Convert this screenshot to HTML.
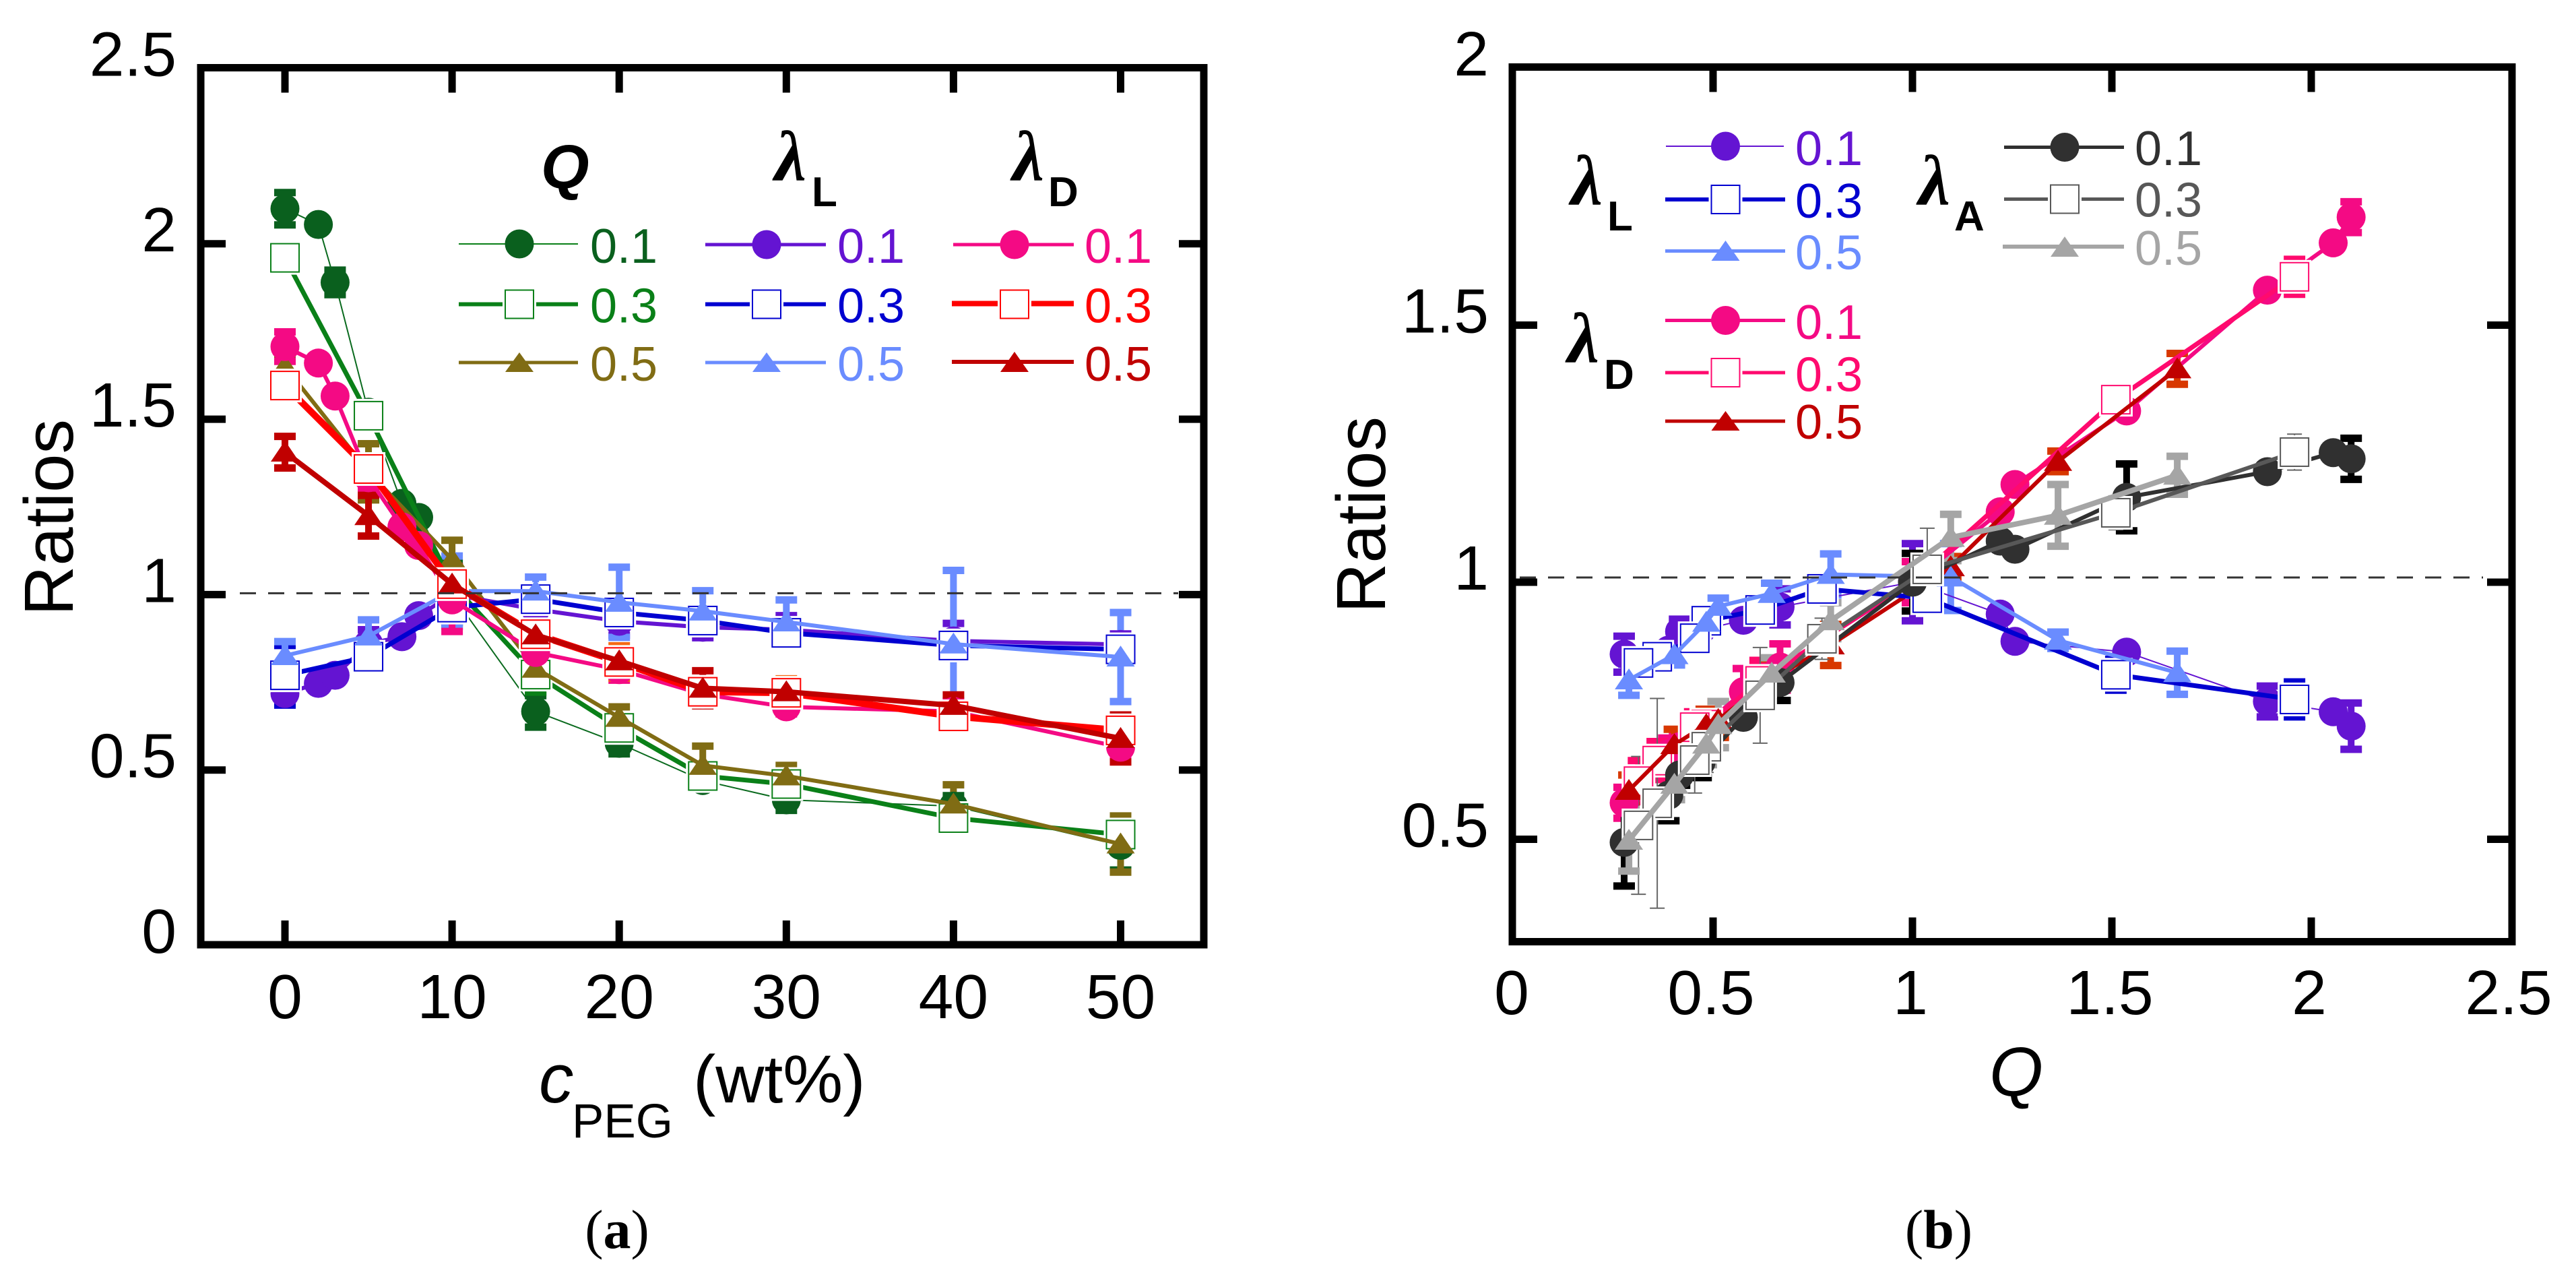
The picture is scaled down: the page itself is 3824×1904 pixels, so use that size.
<!DOCTYPE html>
<html lang="en">
<head>
<meta charset="utf-8">
<title>Ratios versus PEG concentration and Q</title>
<style>
html,body{margin:0;padding:0;background:#fff;width:3824px;height:1904px;overflow:hidden}
svg{display:block}
text{font-family:"Liberation Sans",sans-serif}
.lg{font-size:72px}
.tk{font-size:93px;fill:#000}
.ti{font-size:103px;fill:#000}
.lam{font-family:"Liberation Serif",serif;font-style:italic;font-weight:bold;font-size:106px;fill:#000}
.sub{font-size:62px;font-weight:bold;fill:#000}
.cap{font-family:"Liberation Serif",serif;font-size:82px;fill:#000}
</style>
</head>
<body>
<svg id="figure" xmlns="http://www.w3.org/2000/svg" width="3824" height="1904" viewBox="0 0 3824 1904">
  <rect x="0" y="0" width="3824" height="1904" fill="#fff"/>

  <g id="panelA"></g>
  <g id="panelB"></g>

  <text class="ti" transform="translate(108,914) rotate(-90)">Ratios</text>
  <text class="ti" transform="translate(2056,910) rotate(-90)">Ratios</text>

  <text class="ti" x="800" y="1636"><tspan font-style="italic">c</tspan></text>
  <text x="849" y="1688" font-size="71">PEG</text>
  <text x="1029" y="1636" font-size="100">(wt%)</text>
  <text class="ti" x="2993" y="1626" text-anchor="middle" font-style="italic">Q</text>

  <text class="cap" x="916" y="1852" text-anchor="middle">(<tspan font-weight="bold">a</tspan>)</text>
  <text class="cap" x="2878" y="1852" text-anchor="middle">(<tspan font-weight="bold">b</tspan>)</text>

  <!-- Legend, panel a -->
  <g>
    <text x="803" y="279" font-size="92" font-weight="bold" font-style="italic">Q</text>
    <text class="lam" x="1150" y="268">λ</text>
    <text class="sub" x="1205" y="306">L</text>
    <text class="lam" x="1503" y="268">λ</text>
    <text class="sub" x="1556" y="306">D</text>

    <g><line x1="681" x2="858" y1="362" y2="362" stroke="#0a8018" stroke-width="2"/><circle cx="771" cy="362" r="21.5" fill="#0a601e"/><text class="lg" x="876" y="390" fill="#0a601e">0.1</text></g>
    <g><line x1="681" x2="858" y1="451.500" y2="451.500" stroke="#0a8018" stroke-width="6"/><rect x="746" y="426" width="50" height="50" fill="#fff"/><rect x="750" y="430.500" width="42" height="42" fill="#fff" stroke="#0a8018" stroke-width="2"/><text class="lg" x="876" y="478.500" fill="#0a8018">0.3</text></g>
    <g><line x1="681" x2="858" y1="538" y2="538" stroke="#806c14" stroke-width="5"/><polygon points="771,523 750,552 792,552" fill="#806c14"/><text class="lg" x="876" y="565" fill="#806c14">0.5</text></g>

    <g><line x1="1047" x2="1226" y1="363" y2="363" stroke="#6414d2" stroke-width="5"/><circle cx="1138" cy="363" r="21.5" fill="#6414d2"/><text class="lg" x="1243" y="390" fill="#6414d2">0.1</text></g>
    <g><line x1="1047" x2="1226" y1="451.500" y2="451.500" stroke="#0000d0" stroke-width="6"/><rect x="1113" y="426" width="50" height="50" fill="#fff"/><rect x="1117" y="430.500" width="42" height="42" fill="#fff" stroke="#0000d0" stroke-width="2"/><text class="lg" x="1243" y="478.500" fill="#0000d0">0.3</text></g>
    <g><line x1="1047" x2="1226" y1="538" y2="538" stroke="#6a8cff" stroke-width="5"/><polygon points="1138,523 1117,552 1159,552" fill="#6a8cff"/><text class="lg" x="1243" y="565" fill="#6a8cff">0.5</text></g>

    <g><line x1="1415" x2="1594" y1="363" y2="363" stroke="#f40a84" stroke-width="5"/><circle cx="1506" cy="363" r="21.5" fill="#f40a84"/><text class="lg" x="1610" y="390" fill="#f40a84">0.1</text></g>
    <g><line x1="1413" x2="1594" y1="450.500" y2="450.500" stroke="#ff0000" stroke-width="8"/><rect x="1481" y="426" width="50" height="50" fill="#fff"/><rect x="1485" y="430.500" width="42" height="42" fill="#fff" stroke="#ff0000" stroke-width="2"/><text class="lg" x="1610" y="478.500" fill="#ff0000">0.3</text></g>
    <g><line x1="1413" x2="1594" y1="537" y2="537" stroke="#c00000" stroke-width="6"/><polygon points="1506,522 1485,552 1527,552" fill="#c00000"/><text class="lg" x="1610" y="565" fill="#c00000">0.5</text></g>
  </g>

  <!-- Legend, panel b -->
  <g>
    <text class="lam" x="2332" y="304">λ</text>
    <text class="sub" x="2386" y="342">L</text>
    <text class="lam" x="2327" y="538">λ</text>
    <text class="sub" x="2381" y="577">D</text>
    <text class="lam" x="2848" y="304">λ</text>
    <text class="sub" x="2901" y="342">A</text>

    <g><line x1="2473" x2="2648" y1="217" y2="217" stroke="#6414d2" stroke-width="2"/><circle cx="2561.500" cy="217" r="21.500" fill="#6414d2"/><text class="lg" x="2665" y="245" fill="#6414d2">0.1</text></g>
    <g><line x1="2472" x2="2650" y1="296" y2="296" stroke="#0000d0" stroke-width="6"/><rect x="2536.500" y="271" width="50" height="50" fill="#fff"/><rect x="2540.500" y="275" width="42" height="42" fill="#fff" stroke="#0000d0" stroke-width="2"/><text class="lg" x="2665" y="323" fill="#0000d0">0.3</text></g>
    <g><line x1="2472" x2="2650" y1="372.500" y2="372.500" stroke="#6a8cff" stroke-width="5"/><polygon points="2561.500,357 2540.500,387 2582.500,387" fill="#6a8cff"/><text class="lg" x="2665" y="399.500" fill="#6a8cff">0.5</text></g>

    <g><line x1="2472" x2="2650" y1="475.500" y2="475.500" stroke="#f40a84" stroke-width="5"/><circle cx="2561.500" cy="475.500" r="21.500" fill="#f40a84"/><text class="lg" x="2665" y="503" fill="#f40a84">0.1</text></g>
    <g><line x1="2472" x2="2650" y1="553" y2="553" stroke="#ff0a6e" stroke-width="5"/><rect x="2536.500" y="528" width="50" height="50" fill="#fff"/><rect x="2540.500" y="532" width="42" height="42" fill="#fff" stroke="#ff0a6e" stroke-width="2"/><text class="lg" x="2665" y="580.500" fill="#ff0a6e">0.3</text></g>
    <g><line x1="2472" x2="2650" y1="625" y2="625" stroke="#c00000" stroke-width="5"/><polygon points="2561.500,610 2540.500,639 2582.500,639" fill="#c00000"/><text class="lg" x="2665" y="651" fill="#c00000">0.5</text></g>

    <g><line x1="2975" x2="3153" y1="218.500" y2="218.500" stroke="#303030" stroke-width="5"/><circle cx="3065" cy="218.500" r="21.500" fill="#303030"/><text class="lg" x="3169" y="245" fill="#303030">0.1</text></g>
    <g><line x1="2975" x2="3153" y1="295.500" y2="295.500" stroke="#585858" stroke-width="5"/><rect x="3040" y="270.500" width="50" height="50" fill="#fff"/><rect x="3044" y="274.500" width="42" height="42" fill="#fff" stroke="#585858" stroke-width="2"/><text class="lg" x="3169" y="321.500" fill="#585858">0.3</text></g>
    <g><line x1="2973" x2="3153" y1="366" y2="366" stroke="#a5a5a5" stroke-width="6"/><polygon points="3065,351 3044,381 3086,381" fill="#a5a5a5"/><text class="lg" x="3169" y="393" fill="#a5a5a5">0.5</text></g>
  </g>
</svg>

<script>
// ---- Panel (a) data: ratios against PEG concentration ----
const pegFine = [0, 2, 3, 5, 7, 8, 10, 15, 20, 25, 30, 40, 50];
const pegCoarse = [0, 5, 10, 15, 20, 25, 30, 40, 50];

const q01 = [2.10, 2.055, 1.89, 1.52, 1.26, 1.22, 1.00, 0.667, 0.576, 0.47, 0.415, 0.397, 0.285];
const q01Err = [0.046, 0, 0.035, 0.02, 0, 0, 0.09, 0.045, 0.03, 0.02, 0.03, 0.03, 0.07];
const q03 = [1.96, 1.51, 1.03, 0.772, 0.62, 0.483, 0.46, 0.363, 0.316];
const q03Err = [0.02, 0.02, 0.05, 0.05, 0.03, 0.03, 0.03, 0.03, 0.03];
const q05 = [1.65, 1.35, 1.10, 0.79, 0.65, 0.513, 0.483, 0.403, 0.289];
const q05Err = [0.03, 0.08, 0.055, 0.05, 0.03, 0.055, 0.03, 0.055, 0.08];

const lengthA01 = [0.718, 0.747, 0.77, 0.86, 0.88, 0.94, 1.00, 0.958, 0.924, 0.907, 0.90, 0.868, 0.858];
const lengthA01Err = [0.03, 0, 0, 0.04, 0, 0, 0.08, 0.03, 0.04, 0.03, 0.04, 0.05, 0.03];
const lengthA03 = [0.77, 0.823, 0.963, 0.987, 0.949, 0.926, 0.891, 0.855, 0.844];
const lengthA03Err = [0.085, 0.03, 0.04, 0.03, 0.035, 0.03, 0.03, 0.03, 0.03];
const lengthA05 = [0.826, 0.882, 1.01, 1.01, 0.978, 0.953, 0.922, 0.859, 0.822];
const lengthA05Err = [0.04, 0.046, 0.1, 0.04, 0.1, 0.058, 0.063, 0.21, 0.127];

const diamA01 = [1.707, 1.66, 1.566, 1.333, 1.193, 1.14, 0.985, 0.835, 0.786, 0.716, 0.68, 0.667, 0.565];
const diamA01Err = [0.042, 0, 0, 0.03, 0, 0, 0.09, 0.02, 0.03, 0.02, 0.02, 0.03, 0.035];
const diamA03 = [1.596, 1.358, 1.03, 0.887, 0.808, 0.723, 0.72, 0.653, 0.613];
const diamA03Err = [0.02, 0.03, 0.03, 0.02, 0.046, 0.02, 0.04, 0.02, 0.02];
const diamA05 = [1.406, 1.225, 1.03, 0.885, 0.811, 0.733, 0.723, 0.684, 0.59];
const diamA05Err = [0.045, 0.058, 0.05, 0.03, 0.03, 0.05, 0.03, 0.03, 0.067];

// ---- Panel (b) data: ratios against Q ----
const flowFine = [2.10, 2.055, 1.89, 1.537, 1.257, 1.22, 1.00, 0.668, 0.576, 0.47, 0.416, 0.389, 0.277];
const flowMid = [1.958, 1.51, 1.037, 0.773, 0.618, 0.483, 0.454, 0.36, 0.313];
const flowHigh = [1.664, 1.365, 1.096, 0.795, 0.647, 0.513, 0.483, 0.403, 0.289];

const lengthB01 = [0.72, 0.748, 0.768, 0.864, 0.885, 0.938, 1.00, 0.952, 0.926, 0.907, 0.904, 0.868, 0.86];
const lengthB01Err = [0.045, 0, 0.03, 0, 0, 0, 0.075, 0.035, 0, 0, 0.024, 0, 0.035];
const lengthB03 = [0.772, 0.82, 0.969, 0.987, 0.946, 0.925, 0.891, 0.855, 0.843];
const lengthB03Err = [0.034, 0.03, 0.02, 0.02, 0.02, 0.02, 0.02, 0.02, 0.02];
const lengthB05 = [0.824, 0.887, 1.01, 1.015, 0.978, 0.953, 0.922, 0.859, 0.81];
const lengthB05Err = [0.042, 0.016, 0.065, 0.04, 0.02, 0.016, 0.02, 0.02, 0.03];

const diamB01 = [1.71, 1.66, 1.568, 1.333, 1.19, 1.137, 1.00, 0.835, 0.787, 0.716, 0.68, 0.667, 0.571];
const diamB01Err = [0.03, 0, 0, 0, 0, 0, 0.04, 0.045, 0.045, 0.03, 0.03, 0.03, 0.03];
const diamB03 = [1.594, 1.355, 1.025, 0.887, 0.808, 0.723, 0.718, 0.653, 0.613];
const diamB03Err = [0.034, 0.02, 0.02, 0.02, 0.04, 0.03, 0.03, 0.037, 0.04];
const diamB05 = [1.415, 1.235, 1.03, 0.878, 0.811, 0.733, 0.723, 0.684, 0.595];
const diamB05Err = [0.03, 0.02, 0.02, 0.04, 0.04, 0.035, 0.03, 0.03, 0.03];

const areaB01 = [1.24, 1.252, 1.215, 1.165, 1.064, 1.08, 1.00, 0.805, 0.737, 0.65, 0.625, 0.586, 0.494];
const areaB01Err = [0.04, 0, 0, 0.065, 0, 0, 0.056, 0.035, 0, 0.03, 0.02, 0.05, 0.085];
const areaB03 = [1.253, 1.135, 1.025, 0.89, 0.78, 0.68, 0.654, 0.57, 0.527];
const areaB03Err = [0.035, 0.033, 0.08, 0.04, 0.093, 0.05, 0.064, 0.204, 0.134];
const areaB05 = [1.208, 1.13, 1.087, 0.925, 0.823, 0.723, 0.685, 0.607, 0.498];
const areaB05Err = [0.037, 0.06, 0.045, 0.035, 0.03, 0.045, 0.04, 0.03, 0.06];

// ---- Tick labels ----
const ticksAX = [0, 10, 20, 30, 40, 50];
const ticksAY = [0.5, 1, 1.5, 2];
const labelsAY = [0, 0.5, 1, 1.5, 2, 2.5];
const ticksBX = [0.5, 1, 1.5, 2];
const labelsBX = [0, 0.5, 1, 1.5, 2, 2.5];
const ticksBY = [0.5, 1, 1.5];
const labelsBY = [0.5, 1, 1.5, 2];
const referenceRatio = 1;

// ---- Axis functions ----
function xA(v) { return 423 + 24.81 * v; }
function yA(v) { return 1403 - 520.6 * v; }
function xB(v) { return 2247 + 592 * v; }
function yB(v) { return 864 - 763 * (v - 1); }

const NS = 'http://www.w3.org/2000/svg';
function mk(tag, attrs, parent) {
  const e = document.createElementNS(NS, tag);
  for (const k in attrs) e.setAttribute(k, attrs[k]);
  parent.appendChild(e);
  return e;
}

function drawFrame(root, box, xTicks, yTicks, xFn, yFn, prefix) {
  const frame = mk('rect', { x: box.l, y: box.t, width: box.r - box.l, height: box.b - box.t, fill: 'none', stroke: '#000', 'stroke-width': 11 }, root);
  
  
  xTicks.forEach(function (v) {
    const p = mk('path', { d: 'M' + xFn(v) + ' ' + box.t + 'V' + (box.t + 37) + 'M' + xFn(v) + ' ' + box.b + 'V' + (box.b - 36), stroke: '#000', 'stroke-width': 11, fill: 'none' }, root);
    
    
  });
  yTicks.forEach(function (v) {
    const p = mk('path', { d: 'M' + box.l + ' ' + yFn(v) + 'H' + (box.l + 37) + 'M' + box.r + ' ' + yFn(v) + 'H' + (box.r - 37), stroke: '#000', 'stroke-width': 11, fill: 'none' }, root);
    
    
  });
}

// Error bars go into a shared layer beneath every line and marker.
function drawSeries(root, errorLayer, xs, ys, errs, style, xFn, yFn) {
  const capW = style.thinBars ? 11 : 16;
  const barW = style.thinBars ? 2 : 10;
  const capT = style.thinBars ? 2 : 11;
  xs.forEach(function (xv, i) {
    if (!errs[i]) return;
    const x = xFn(xv), hi = yFn(ys[i] + errs[i]), lo = yFn(ys[i] - errs[i]);
    const bar = mk('path', { d: 'M' + x + ' ' + hi + 'V' + lo, stroke: style.cap || style.color, fill: 'none', 'stroke-width': barW }, errorLayer);
    
    
    const caps = mk('path', { d: 'M' + (x - capW) + ' ' + hi + 'H' + (x + capW) + 'M' + (x - capW) + ' ' + lo + 'H' + (x + capW), stroke: style.cap || style.color, fill: 'none', 'stroke-width': capT }, errorLayer);
    
    
  });
  const g = mk('g', {}, root);
  
  
  const pts = xs.map(function (xv, i) { return xFn(xv) + ',' + yFn(ys[i]); }).join(' ');
  const line = mk('polyline', { points: pts, fill: 'none', stroke: style.line || style.color, 'stroke-width': style.width, 'stroke-linejoin': 'round' }, g);
  
  
  xs.forEach(function (xv, i) {
    const x = xFn(xv), y = yFn(ys[i]);
    if (style.marker === 'circle') {
      const c = mk('circle', { cx: x, cy: y, r: 21.5, fill: style.color }, g);
      
      
    } else if (style.marker === 'square') {
      const halo = mk('rect', { x: x - 25, y: y - 25, width: 50, height: 50, fill: '#fff' }, g);
      
      
      const r = mk('rect', { x: x - 21, y: y - 21, width: 42, height: 42, fill: '#fff', stroke: style.color, 'stroke-width': 2 }, g);
      
      
    } else {
      const t = mk('polygon', { points: x + ',' + (y - 17) + ' ' + (x - 21) + ',' + (y + 14) + ' ' + (x + 21) + ',' + (y + 14), fill: style.color }, g);
      
      
    }
  });
}

function drawRef(root, x1, x2, y, name) {
  const ref = mk('line', { x1: x1, x2: x2, y1: y, y2: y, stroke: '#333', 'stroke-width': 3, 'stroke-dasharray': '24 18' }, root);
  
  
}

function tickLabel(root, x, y, anchor, value, name) {
  const t = mk('text', { x: x, y: y, 'text-anchor': anchor, class: 'tk' }, root);
  t.textContent = String(value);
  
  
}

// ---- Panel (a) ----
const rootA = document.getElementById('panelA');
drawFrame(rootA, { l: 298, r: 1787, t: 100.5, b: 1402 }, ticksAX, ticksAY, xA, yA, 'panel-a');
const errorsA = mk('g', {}, rootA);


drawSeries(rootA, errorsA, pegFine, q01, q01Err, { name: 'series-q-0.1', color: '#0a601e', line: '#0a6a1e', width: 2, marker: 'circle' }, xA, yA);
drawSeries(rootA, errorsA, pegCoarse, q03, q03Err, { name: 'series-q-0.3', color: '#0a8018', width: 7, marker: 'square' }, xA, yA);
drawSeries(rootA, errorsA, pegCoarse, q05, q05Err, { name: 'series-q-0.5', color: '#806c14', width: 6, marker: 'triangle' }, xA, yA);
drawSeries(rootA, errorsA, pegFine, lengthA01, lengthA01Err, { name: 'series-lambda-l-0.1', color: '#6414d2', width: 6, marker: 'circle' }, xA, yA);
drawSeries(rootA, errorsA, pegCoarse, lengthA03, lengthA03Err, { name: 'series-lambda-l-0.3', color: '#0000d0', width: 7, marker: 'square' }, xA, yA);
drawSeries(rootA, errorsA, pegCoarse, lengthA05, lengthA05Err, { name: 'series-lambda-l-0.5', color: '#6a8cff', width: 6, marker: 'triangle' }, xA, yA);
drawSeries(rootA, errorsA, pegFine, diamA01, diamA01Err, { name: 'series-lambda-d-0.1', color: '#f40a84', width: 6, marker: 'circle' }, xA, yA);
drawSeries(rootA, errorsA, pegCoarse, diamA03, diamA03Err, { name: 'series-lambda-d-0.3', color: '#ff0000', cap: '#f56a14', width: 10, marker: 'square' }, xA, yA);
drawSeries(rootA, errorsA, pegCoarse, diamA05, diamA05Err, { name: 'series-lambda-d-0.5', color: '#c00000', width: 8, marker: 'triangle' }, xA, yA);
drawRef(rootA, 356, 1749, yA(referenceRatio) - 2, 'reference-line-a');
labelsAY.forEach(function (v) { tickLabel(rootA, 262, yA(v) + 11, 'end', v, 'y-tick-label-a'); });
ticksAX.forEach(function (v) { tickLabel(rootA, xA(v), 1511, 'middle', v, 'x-tick-label-a'); });

// ---- Panel (b) ----
const rootB = document.getElementById('panelB');
drawFrame(rootB, { l: 2245, r: 3729, t: 99.5, b: 1397.5 }, ticksBX, ticksBY, xB, yB, 'panel-b');
const errorsB = mk('g', {}, rootB);


drawSeries(rootB, errorsB, flowFine, diamB01, diamB01Err, { name: 'series-b-lambda-d-0.1', color: '#f40a84', width: 6, marker: 'circle' }, xB, yB);
drawSeries(rootB, errorsB, flowMid, diamB03, diamB03Err, { name: 'series-b-lambda-d-0.3', color: '#ff0a6e', width: 7, marker: 'square' }, xB, yB);
drawSeries(rootB, errorsB, flowHigh, diamB05, diamB05Err, { name: 'series-b-lambda-d-0.5', color: '#c00000', cap: '#d83800', width: 6, marker: 'triangle' }, xB, yB);
drawSeries(rootB, errorsB, flowFine, lengthB01, lengthB01Err, { name: 'series-b-lambda-l-0.1', color: '#6414d2', width: 2, marker: 'circle' }, xB, yB);
drawSeries(rootB, errorsB, flowMid, lengthB03, lengthB03Err, { name: 'series-b-lambda-l-0.3', color: '#0000d0', width: 7, marker: 'square' }, xB, yB);
drawSeries(rootB, errorsB, flowHigh, lengthB05, lengthB05Err, { name: 'series-b-lambda-l-0.5', color: '#6a8cff', width: 6, marker: 'triangle' }, xB, yB);
drawSeries(rootB, errorsB, flowFine, areaB01, areaB01Err, { name: 'series-b-lambda-a-0.1', color: '#303030', cap: '#000', width: 6, marker: 'circle' }, xB, yB);
drawSeries(rootB, errorsB, flowMid, areaB03, areaB03Err, { name: 'series-b-lambda-a-0.3', color: '#585858', cap: '#666', thinBars: true, width: 6, marker: 'square' }, xB, yB);
drawSeries(rootB, errorsB, flowHigh, areaB05, areaB05Err, { name: 'series-b-lambda-a-0.5', color: '#a5a5a5', width: 8, marker: 'triangle' }, xB, yB);
drawRef(rootB, 2256, 3686, yB(referenceRatio) - 7, 'reference-line-b');
labelsBY.forEach(function (v) { tickLabel(rootB, 2210, yB(v) + 11, 'end', v, 'y-tick-label-b'); });
labelsBX.forEach(function (v) { tickLabel(rootB, xB(v) - 3, 1505, 'middle', v, 'x-tick-label-b'); });
</script>
</body>
</html>
